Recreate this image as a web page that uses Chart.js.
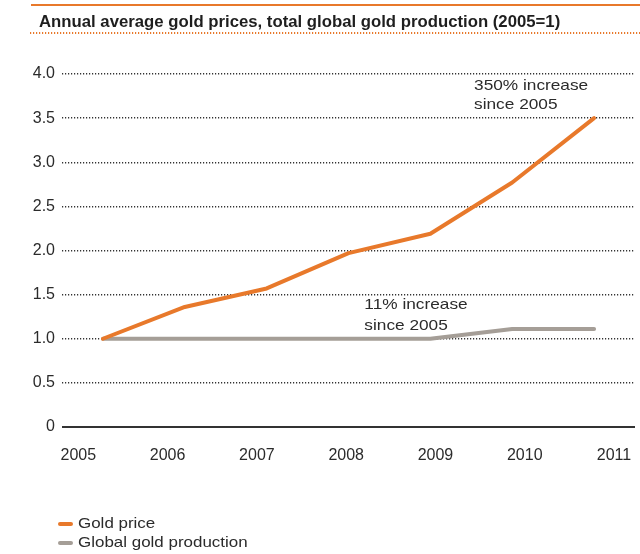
<!DOCTYPE html>
<html>
<head>
<meta charset="utf-8">
<script src="https://cdn.jsdelivr.net/npm/chart.js@4/dist/chart.umd.min.js"></script>
<style>
  html, body { margin: 0; padding: 0; background: #fff; }
  #wrap { width: 640px; height: 554px; }
</style>
</head>
<body>
<div id="wrap"><canvas id="c" width="640" height="554"></canvas></div>
<script>
// Years and index values (2005 = 1)
const years = ['2005', '2006', '2007', '2008', '2009', '2010', '2011'];
const goldPrice = [1.0, 1.36, 1.57, 1.97, 2.19, 2.77, 3.5];
const goldProduction = [1.0, 1.0, 1.0, 1.0, 1.0, 1.11, 1.11];

const yearTicks = [2005, 2006, 2007, 2008, 2009, 2010, 2011];
const valueTicks = [0, 0.5, 1.0, 1.5, 2.0, 2.5, 3.0, 3.5, 4.0];

const chartTitle = 'Annual average gold prices, total global gold production (2005=1)';
const goldNote = ['350% increase', 'since 2005'];
const productionNote = ['11% increase', 'since 2005'];

const ORANGE = '#E8792B';
const GREY = '#A59E97';
const TEXT = '#2b2b2b';
const FONT = '"Liberation Sans", Arial, Helvetica, sans-serif';

// text drawn slightly wide, as in the printed layout
function wideText(ctx, str, x, y, sx) {
  ctx.save();
  ctx.translate(x, y);
  ctx.scale(sx, 1);
  ctx.fillText(str, 0, 0);
  ctx.restore();
}

// Header rules, title, notes and the stacked legend
const decor = {
  id: 'decor',
  afterDraw(chart) {
    const ctx = chart.ctx;
    const xs = chart.scales.x, ys = chart.scales.y;
    ctx.save();

    // solid rule above the title
    ctx.strokeStyle = ORANGE;
    ctx.lineWidth = 2;
    ctx.beginPath();
    ctx.moveTo(31, 5);
    ctx.lineTo(640, 5);
    ctx.stroke();

    // title
    ctx.fillStyle = '#1e1e1e';
    ctx.font = 'bold 16px ' + FONT;
    ctx.textAlign = 'left';
    ctx.textBaseline = 'alphabetic';
    wideText(ctx, chartTitle, 39, 27, 1.046);

    // dotted rule under the title
    ctx.setLineDash([1.2, 1.8]);
    ctx.lineWidth = 2;
    ctx.beginPath();
    ctx.moveTo(30, 33);
    ctx.lineTo(640, 33);
    ctx.stroke();
    ctx.setLineDash([]);

    // notes next to the lines
    ctx.fillStyle = TEXT;
    ctx.font = '15px ' + FONT;
    ctx.textBaseline = 'middle';
    const gi = goldPrice.length - 1;
    const gx = xs.getPixelForValue(gi) - 120;
    const gy = ys.getPixelForValue(goldPrice[gi]);
    wideText(ctx, goldNote[0], gx, gy - 32, 1.15);
    wideText(ctx, goldNote[1], gx, gy - 13, 1.15);

    const pi = 4;
    const px = xs.getPixelForValue(pi) - 66;
    const py = ys.getPixelForValue(goldProduction[pi]);
    wideText(ctx, productionNote[0], px, py - 34, 1.15);
    wideText(ctx, productionNote[1], px, py - 13, 1.15);

    // legend, one entry per row
    ctx.font = '15px ' + FONT;
    ctx.textBaseline = 'middle';
    chart.data.datasets.forEach((ds, i) => {
      const cy = 524 + i * 19;
      ctx.strokeStyle = ds.borderColor;
      ctx.lineWidth = 4;
      ctx.lineCap = 'round';
      ctx.beginPath();
      ctx.moveTo(60, cy);
      ctx.lineTo(71, cy);
      ctx.stroke();
      ctx.fillStyle = TEXT;
      wideText(ctx, ds.label, 78, cy, 1.13);
    });
    ctx.restore();
  }
};

new Chart(document.getElementById('c'), {
  type: 'line',
  data: {
    labels: years,
    datasets: [
      {
        label: 'Gold price',
        data: goldPrice,
        borderColor: ORANGE,
        backgroundColor: ORANGE,
        borderWidth: 4,
        borderCapStyle: 'round',
        borderJoinStyle: 'round',
        pointRadius: 0,
        tension: 0,
        clip: false
      },
      {
        label: 'Global gold production',
        data: goldProduction,
        borderColor: GREY,
        backgroundColor: GREY,
        borderWidth: 4,
        borderCapStyle: 'round',
        borderJoinStyle: 'round',
        pointRadius: 0,
        tension: 0,
        clip: false
      }
    ]
  },
  options: {
    responsive: false,
    animation: false,
    events: [],
    layout: { padding: { top: 74, left: 0, right: 5, bottom: 0 } },
    plugins: {
      legend: { display: false },
      title: { display: false },
      tooltip: { enabled: false }
    },
    scales: {
      x: {
        type: 'category',
        display: false,
        offset: true
      },
      years: {
        type: 'linear',
        position: 'bottom',
        min: 2004.817,
        max: 2011.235,
        afterBuildTicks: (axis) => { axis.ticks = yearTicks.map(v => ({ value: v })); },
        afterFit: (axis) => {
          axis.height = 127;
          axis.paddingLeft = 0;
          axis.paddingRight = 0;
        },
        grid: { display: false, drawTicks: false },
        border: { display: false },
        ticks: {
          padding: 19,
          color: TEXT,
          font: { family: FONT, size: 16 },
          callback: (v) => String(v),
          maxRotation: 0,
          autoSkip: false
        }
      },
      y: {
        min: 0,
        max: 4,
        afterBuildTicks: (axis) => { axis.ticks = valueTicks.map(v => ({ value: v })); },
        afterFit: (axis) => { axis.width = 62; },
        grid: {
          drawTicks: false,
          color: '#333',
          lineWidth: (c) => (c.tick && c.tick.value === 0 ? 2 : 1.4)
        },
        border: {
          display: false,
          dash: (c) => (c.tick && c.tick.value === 0 ? [] : [1.2, 1.8])
        },
        ticks: {
          padding: 7,
          color: TEXT,
          font: { family: FONT, size: 16 },
          callback: (v) => (v === 0 ? '0' : v.toFixed(1))
        }
      }
    }
  },
  plugins: [decor]
});
</script>
</body>
</html>
